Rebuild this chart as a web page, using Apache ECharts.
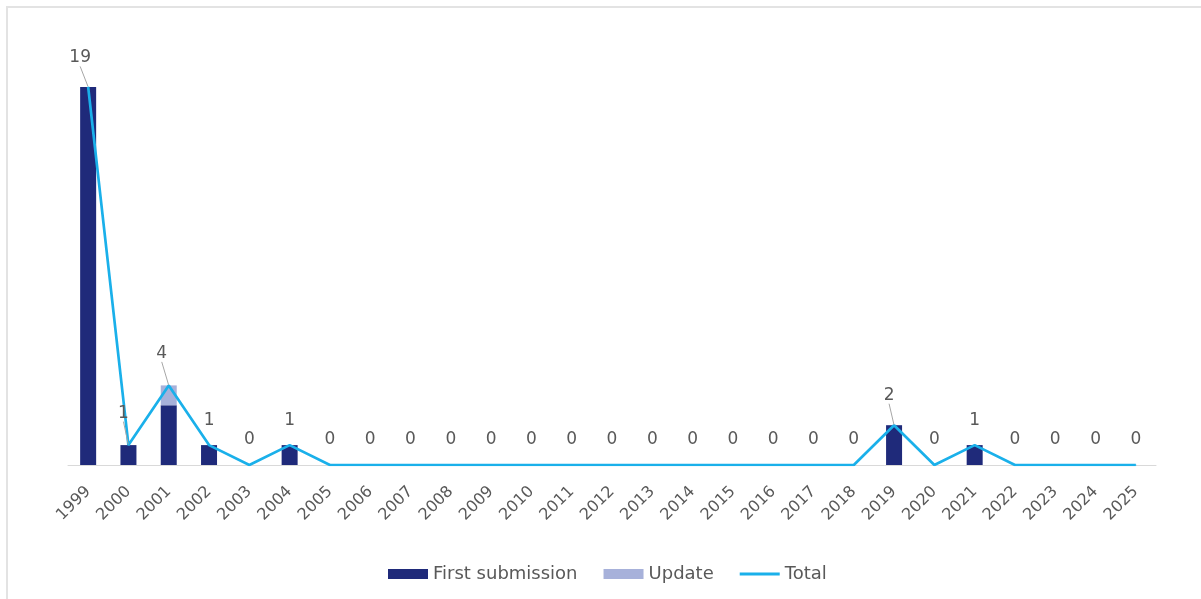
<!DOCTYPE html>
<html>
<head>
<meta charset="utf-8">
<script src="https://cdn.jsdelivr.net/npm/echarts@6/dist/echarts.min.js"></script>
<style>
  html, body { margin: 0; padding: 0; background: #fff; overflow: hidden; }
  #wrap { position: relative; width: 1201px; height: 599px; }
  #frame { position: absolute; left: 6px; top: 6px; width: 1300px; height: 700px;
           border-top: 2px solid #e3e3e3; border-left: 2px solid #e3e3e3; box-sizing: border-box; }
  #chart { position: absolute; left: 0; top: 0; width: 1201px; height: 599px; }
</style>
</head>
<body>
<div id="wrap">
  <div id="frame"></div>
  <div id="chart"></div>
</div>
<script>
// Submissions per year
const years = ['1999','2000','2001','2002','2003','2004','2005','2006','2007','2008','2009','2010','2011',
  '2012','2013','2014','2015','2016','2017','2018','2019','2020','2021','2022','2023','2024','2025'];
const firstSubmission = [19,1,3,1,0,1,0,0,0,0,0,0,0,0,0,0,0,0,0,0,2,0,1,0,0,0,0];
const updates         = [0,0,1,0,0,0,0,0,0,0,0,0,0,0,0,0,0,0,0,0,0,0,0,0,0,0,0];
const totals          = [19,1,4,1,0,1,0,0,0,0,0,0,0,0,0,0,0,0,0,0,2,0,1,0,0,0,0];

// Labels nudged off the line get a leader line back to their point
const labelShift = { 0: [-8, -4], 1: [-5, -7], 2: [-7, -7], 20: [-5, -5] };

const FONT = '"DejaVu Sans", Verdana, sans-serif';
const TEXT = '#595959';

const totalData = totals.map(function (v, i) {
  return labelShift[i] ? { value: v, labelLine: { show: true } } : v;
});

const chart = echarts.init(document.getElementById('chart'), null, { renderer: 'canvas' });
chart.setOption({
  animation: false,
  textStyle: { fontFamily: FONT },
  grid: { left: 68, right: 45, top: 67, bottom: 134 },
  legend: {
    bottom: 11,
    left: 383,
    itemWidth: 40,
    itemHeight: 10,
    itemGap: 26,
    textStyle: { color: TEXT, fontSize: 18, fontFamily: FONT },
    data: [
      { name: 'First submission', icon: 'rect' },
      { name: 'Update', icon: 'rect' },
      { name: 'Total', icon: 'path://M0,0 H1 M0,3.6 H40 V6.4 H0 Z M0,10 H1' }
    ]
  },
  xAxis: {
    type: 'category',
    data: years,
    axisLine: { lineStyle: { color: '#d9d9d9', width: 1 } },
    axisTick: { show: false },
    axisLabel: { rotate: 45, color: TEXT, fontSize: 16, fontFamily: FONT, margin: 24, interval: 0 }
  },
  yAxis: {
    type: 'value',
    min: 0,
    max: 20,
    show: false,
    splitLine: { show: false }
  },
  series: [
    {
      name: 'First submission',
      type: 'bar',
      stack: 'sub',
      barWidth: 16,
      itemStyle: { color: '#1f2a7a' },
      data: firstSubmission
    },
    {
      name: 'Update',
      type: 'bar',
      stack: 'sub',
      barWidth: 16,
      itemStyle: { color: '#a7b1da' },
      data: updates
    },
    {
      name: 'Total',
      type: 'line',
      symbol: 'circle',
      symbolSize: 1,
      itemStyle: { color: '#1ab0ea' },
      lineStyle: { color: '#1ab0ea', width: 2.7 },
      label: {
        show: true,
        position: 'top',
        distance: 16,
        color: TEXT,
        fontSize: 17,
        fontFamily: FONT
      },
      labelLine: { show: false, lineStyle: { color: '#a6a6a6', width: 1 } },
      labelLayout: function (p) {
        const s = labelShift[p.dataIndex];
        return s ? { dx: s[0], dy: s[1] } : {};
      },
      data: totalData,
      z: 5
    }
  ]
});
</script>
</body>
</html>
